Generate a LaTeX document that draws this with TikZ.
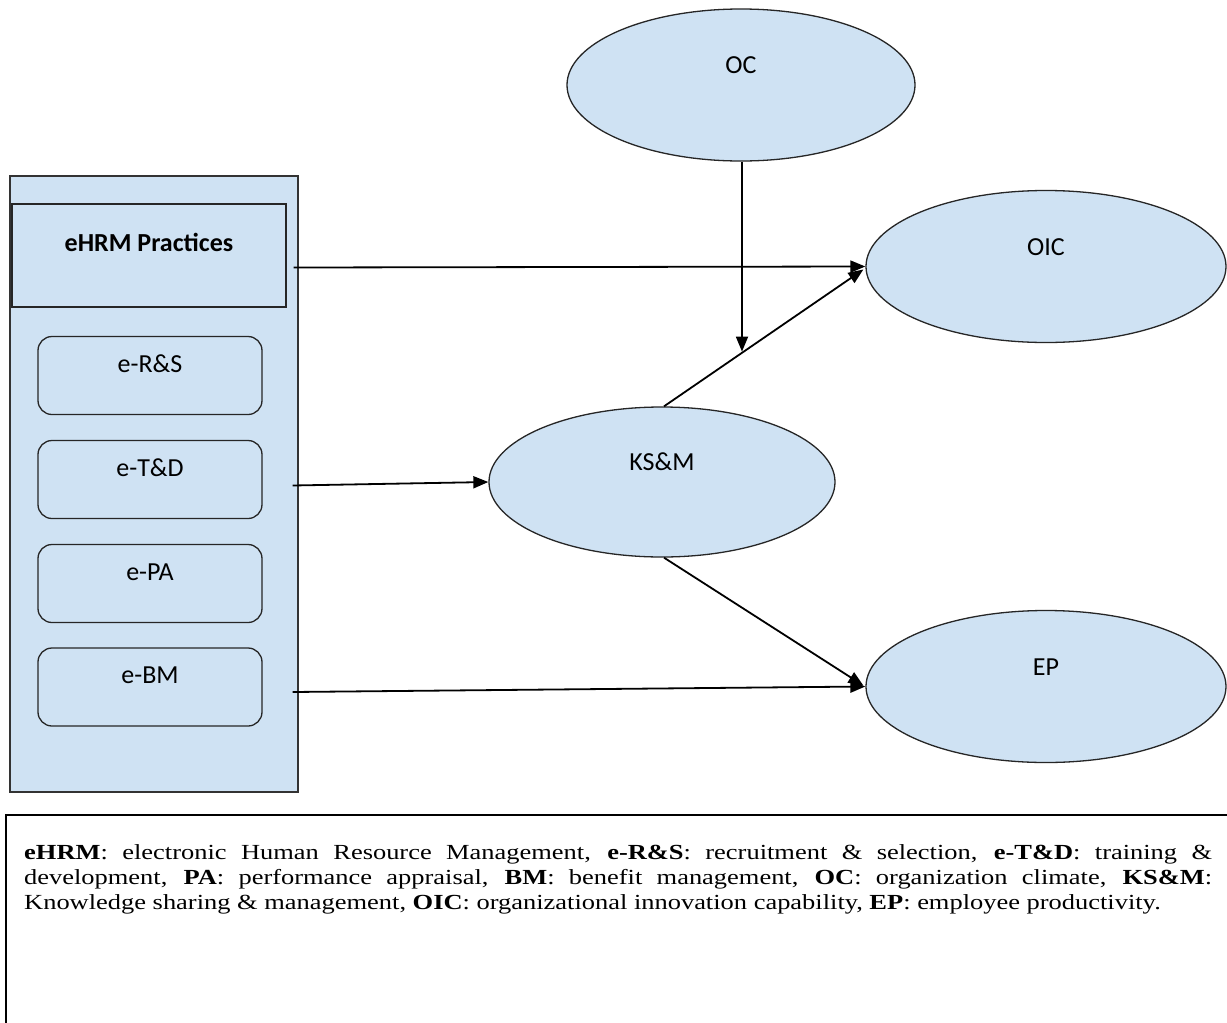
\documentclass[tikz,border=0pt]{standalone}
\usepackage{fontspec}
\setmainfont{Liberation Serif}
\newfontfamily\calib{Carlito}
\newfontfamily\legendfont[FakeStretch=1.23]{Liberation Serif}
\usetikzlibrary{shapes.geometric,arrows.meta,calc}
\definecolor{fillblue}{RGB}{207,226,243}
\begin{document}
\begin{tikzpicture}[x=1pt,y=-1pt,
  nodefont/.style={font=\calib\fontsize{26}{30}\selectfont},
  panelbox/.style={draw=black!80, fill=fillblue, line width=1.3pt, inner sep=0pt},
  headbox/.style={draw=black!85, fill=fillblue, line width=1.3pt, nodefont, font=\calib\bfseries\fontsize{26}{30}\selectfont,
      minimum width=274pt, minimum height=103pt, text height=17pt, text depth=25pt, inner sep=0pt},
  subbox/.style={draw=black!85, fill=fillblue, line width=1.3pt, rounded corners=14pt, nodefont,
      minimum width=224pt, minimum height=78pt, text height=17pt, text depth=24pt, inner sep=0pt},
  ell/.style={ellipse, draw=black!85, fill=fillblue, line width=1.3pt, nodefont,
      minimum width=350pt, minimum height=152pt, text height=17pt, text depth=40pt, inner sep=0pt},
  arr/.style={line width=1.8pt, -{Triangle[length=15pt,width=12pt]}},
  legendtext/.style={text width=1188pt, align=justify, inner sep=0pt,
      font=\legendfont\fontsize{21.5}{25}\selectfont}
]
\useasboundingbox (0,0) rectangle (1227,1023);
\fill[white] (0,0) rectangle (1227,1023);

% left panel
\node[panelbox, minimum width=288pt, minimum height=616pt] (panel) at (154,484) {};
\node[headbox] (ehrm) at (149,255.5) {eHRM Practices};
\node[subbox] (rs) at (150,375.5) {e-R\&S};
\node[subbox] (td) at (150,479.5) {e-T\&D};
\node[subbox] (pa) at (150,583.5) {e-PA};
\node[subbox] (bm) at (150,687) {e-BM};

% ellipses
\node[ell, minimum width=348pt] (oc) at (741,85) {OC};
\node[ell, minimum width=360pt] (oic) at (1046,266.5) {OIC};
\node[ell, minimum width=346pt, minimum height=150pt] (ks) at (662,482) {KS\&M};
\node[ell, minimum width=360pt] (ep) at (1046,686.5) {EP};

% connectors
\draw[arr] ($(panel.east |- oic.west)+(-5,1)$) -- (oic.west);
\draw[arr] ($(panel.east |- td)+(-6,6)$) -- (ks.west);
\draw[arr] ($(panel.east |- bm)+(-6,5)$) -- (ep.west);
\draw[arr] ([xshift=2pt]ks.north) -- ([xshift=-2pt,yshift=-3pt]oic.west);
\draw[arr] ([xshift=2pt]ks.south) -- ([xshift=-2pt,yshift=1pt]ep.west);
\coordinate (mod) at ($([xshift=2pt]ks.north)!0.4!([xshift=-2pt,yshift=-3pt]oic.west)$);
\draw[arr] ([xshift=1pt]oc.south) -- ([xshift=1pt]oc.south |- mod);

% legend
\draw[line width=2pt] (6,1030) -- (6,815) -- (1235,815);
\node[legendtext, anchor=base west] (legend) at (24,859) {\textbf{eHRM}: electronic Human Resource Management, \textbf{e-R\&S}: recruitment \& selection, \textbf{e-T\&D}: training \&\linebreak development, \textbf{PA}: performance appraisal, \textbf{BM}: benefit management, \textbf{OC}: organization climate, \textbf{KS\&M}:\linebreak Knowledge sharing \& management, \textbf{OIC}: organizational innovation capability, \textbf{EP}: employee productivity.};
\end{tikzpicture}
\end{document}
